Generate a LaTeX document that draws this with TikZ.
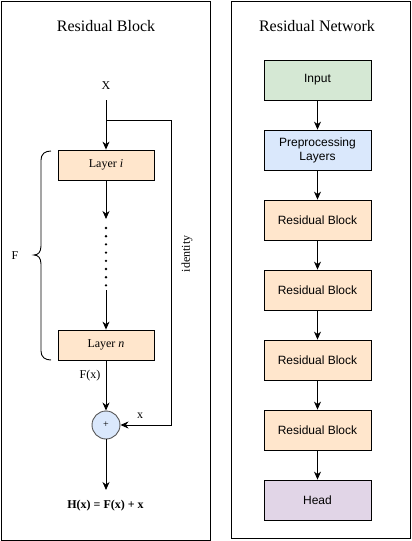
\documentclass[tikz,border=0pt]{standalone}
\usepackage{fontspec}
\setmainfont{Liberation Serif}
\setsansfont{Liberation Sans}
\usetikzlibrary{arrows.meta}
\definecolor{peach}{HTML}{FFE6CC}
\definecolor{mint}{HTML}{D5E8D4}
\definecolor{skyb}{HTML}{DAE8FC}
\definecolor{lilac}{HTML}{E1D5E7}
\definecolor{sumline}{HTML}{555555}
\begin{document}
\begin{tikzpicture}[x=1pt,y=-1pt,
  panel/.style={draw=black, line width=0.9pt},
  layerbox/.style={draw=black, fill=peach, line width=0.8pt, minimum width=96pt, minimum height=30pt, inner sep=0pt, font=\fontsize{12}{14}\selectfont},
  netbox/.style={draw=black, line width=0.8pt, minimum width=107pt, minimum height=40pt, inner sep=0pt, align=center, font=\sffamily\fontsize{12}{14}\selectfont},
  conn/.style={line width=0.9pt, -{Stealth[length=8pt,width=7pt,inset=2.5pt]}},
  plain/.style={line width=0.9pt},
  dotline/.style={line width=2.6pt, line cap=round, dash pattern=on 0pt off 8.2pt},
  titletext/.style={font=\fontsize{16}{19}\selectfont, inner sep=0pt},
  lbl/.style={font=\fontsize{12}{14}\selectfont, inner sep=0pt}
]
\useasboundingbox (0,0) rectangle (412,541);
% panels
\draw[panel] (1,1) rectangle (210,540);
\draw[panel] (231,1) rectangle (410,538);
\node[titletext] (t1) at (106,26) {Residual Block};
\node[titletext] (t2) at (317,26) {Residual Network};

% ---- Residual block ----
\node[lbl] (X) at (106,86) {X};
\coordinate (xin) at (106,100);
\node[layerbox] (li) at (106,165) {Layer \textit{i}};
\node[layerbox] (ln) at (106,345) {Layer \textit{n}};
\coordinate (d1) at (106,219);
\coordinate (d2) at (106,228);
\coordinate (d3) at (106,286);
\coordinate (d4) at (106,290);
\draw[conn] (xin) -- (li.north);
\draw[conn] (li.south) -- (d1);
\draw[dotline] (d2) -- (d3);
\draw[conn] (d4) -- (ln.north);
\node[circle, draw=sumline, fill=skyb, line width=0.9pt, minimum size=28pt, inner sep=0pt, font=\fontsize{10}{12}\selectfont] (sum) at (106,425) {+};
\draw[conn] (ln.south) -- (sum.north);
\node[lbl] (fx) at (90,376) {F(x)};
\coordinate (s1) at (106,120);
\coordinate (s2) at (171,120);
\coordinate (s3) at (171,425);
\draw[conn] (s1) -- (s2) -- (s3) -- (sum.east);
\node[lbl] (xl) at (140,416) {x};
\node[lbl, rotate=90] (id) at (187,254) {identity};
\coordinate (out) at (106,490);
\draw[conn] (sum.south) -- (out);
\node[lbl, font=\bfseries\fontsize{12}{14}\selectfont] (hx) at (105.5,506) {H(x) = F(x) + x};
% brace
\draw[plain] (51,151) .. controls (45,151) and (41,154) .. (41,160) -- (41,246)
  .. controls (41,252) and (38,255) .. (34,255)
  .. controls (38,255) and (41,258) .. (41,264) -- (41,351)
  .. controls (41,357) and (45,360) .. (51,360);
\node[lbl] (F) at (15,256) {F};

% ---- Residual network ----
\node[netbox, fill=mint] (inp) at (317.5,80) {Input};
\node[netbox, fill=skyb] (pre) at (317.5,150) {Preprocessing\\Layers};
\node[netbox, fill=peach] (rb1) at (317.5,220) {Residual Block};
\node[netbox, fill=peach] (rb2) at (317.5,290) {Residual Block};
\node[netbox, fill=peach] (rb3) at (317.5,360) {Residual Block};
\node[netbox, fill=peach] (rb4) at (317.5,430) {Residual Block};
\node[netbox, fill=lilac] (head) at (317.5,500) {Head};
\draw[conn] (inp) -- (pre);
\draw[conn] (pre) -- (rb1);
\draw[conn] (rb1) -- (rb2);
\draw[conn] (rb2) -- (rb3);
\draw[conn] (rb3) -- (rb4);
\draw[conn] (rb4) -- (head);
\end{tikzpicture}
\end{document}
